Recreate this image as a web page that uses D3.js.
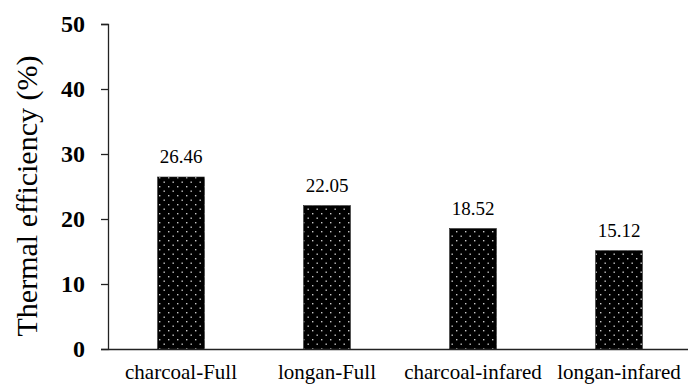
<!DOCTYPE html>
<html>
<head>
<meta charset="utf-8">
<script src="https://cdn.jsdelivr.net/npm/d3@7/dist/d3.min.js"></script>
<style>
  html, body { margin: 0; padding: 0; background: #fff; }
  svg { display: block; }
</style>
</head>
<body>
<svg id="chart" width="688" height="385"></svg>
<script>
// Thermal efficiency by fuel / heating mode
const categories = ["charcoal-Full", "longan-Full", "charcoal-infared", "longan-infared"];
const efficiency = [26.46, 22.05, 18.52, 15.12];
const yTicks = [0, 10, 20, 30, 40, 50];

const serif = "'Liberation Serif', 'Times New Roman', serif";
const svg = d3.select("#chart");
const margin = { left: 108, top: 24, right: -4, bottom: 36 };
const W = 688, H = 385;

const x = d3.scaleBand()
  .domain(categories)
  .range([margin.left, W - margin.right])
  .paddingInner(0.68)
  .paddingOuter(0.34);

const y = d3.scaleLinear()
  .domain([0, 50])
  .range([H - margin.bottom, margin.top]);

// dotted fill for the bars
const defs = svg.append("defs");
const pat = defs.append("pattern")
  .attr("id", "dots")
  .attr("patternUnits", "userSpaceOnUse")
  .attr("width", 9).attr("height", 9);
pat.append("rect").attr("width", 9).attr("height", 9).attr("fill", "#000");
pat.append("rect").attr("x", 1.5).attr("y", 1.5).attr("width", 1.4).attr("height", 1.4).attr("fill", "#c8c8c8");
pat.append("rect").attr("x", 6).attr("y", 6).attr("width", 1.4).attr("height", 1.4).attr("fill", "#c8c8c8");

// bars
svg.append("g").selectAll("rect")
  .data(categories)
  .join("rect")
  .attr("x", d => x(d))
  .attr("y", (d, i) => y(efficiency[i]))
  .attr("width", x.bandwidth())
  .attr("height", (d, i) => y(0) - y(efficiency[i]))
  .attr("fill", "url(#dots)")
  .attr("stroke", "#222")
  .attr("stroke-width", 0.6);

// value labels
svg.append("g").selectAll("text")
  .data(categories)
  .join("text")
  .attr("x", d => x(d) + x.bandwidth() / 2)
  .attr("y", (d, i) => y(efficiency[i]) - 14)
  .attr("text-anchor", "middle")
  .attr("font-family", serif)
  .attr("font-size", 19)
  .attr("fill", "#000")
  .text((d, i) => efficiency[i].toFixed(2));

// y axis
const yAxis = d3.axisLeft(y).tickValues(yTicks).tickSize(7).tickPadding(16);
const gy = svg.append("g")
  .attr("transform", `translate(${margin.left},0)`)
  .call(yAxis);
gy.select(".domain").attr("stroke", "#222").attr("stroke-width", 1.3);
gy.selectAll(".tick line").attr("stroke", "#222").attr("stroke-width", 1.3);
gy.selectAll(".tick text")
  .attr("font-family", serif)
  .attr("font-size", 24)
  .attr("font-weight", "bold")
  .attr("fill", "#000");

// x axis
const xAxis = d3.axisBottom(x).tickSize(0).tickPadding(15);
const gx = svg.append("g")
  .attr("transform", `translate(0,${y(0)})`)
  .call(xAxis);
gx.select(".domain").attr("stroke", "#222").attr("stroke-width", 1.3);
gx.selectAll(".tick text")
  .attr("font-family", serif)
  .attr("font-size", 21)
  .attr("fill", "#000");

// y axis title
svg.append("text")
  .attr("transform", `translate(37,196) rotate(-90)`)
  .attr("text-anchor", "middle")
  .attr("font-family", serif)
  .attr("font-size", 30)
  .attr("fill", "#000")
  .text("Thermal efficiency (%)");
</script>
</body>
</html>
